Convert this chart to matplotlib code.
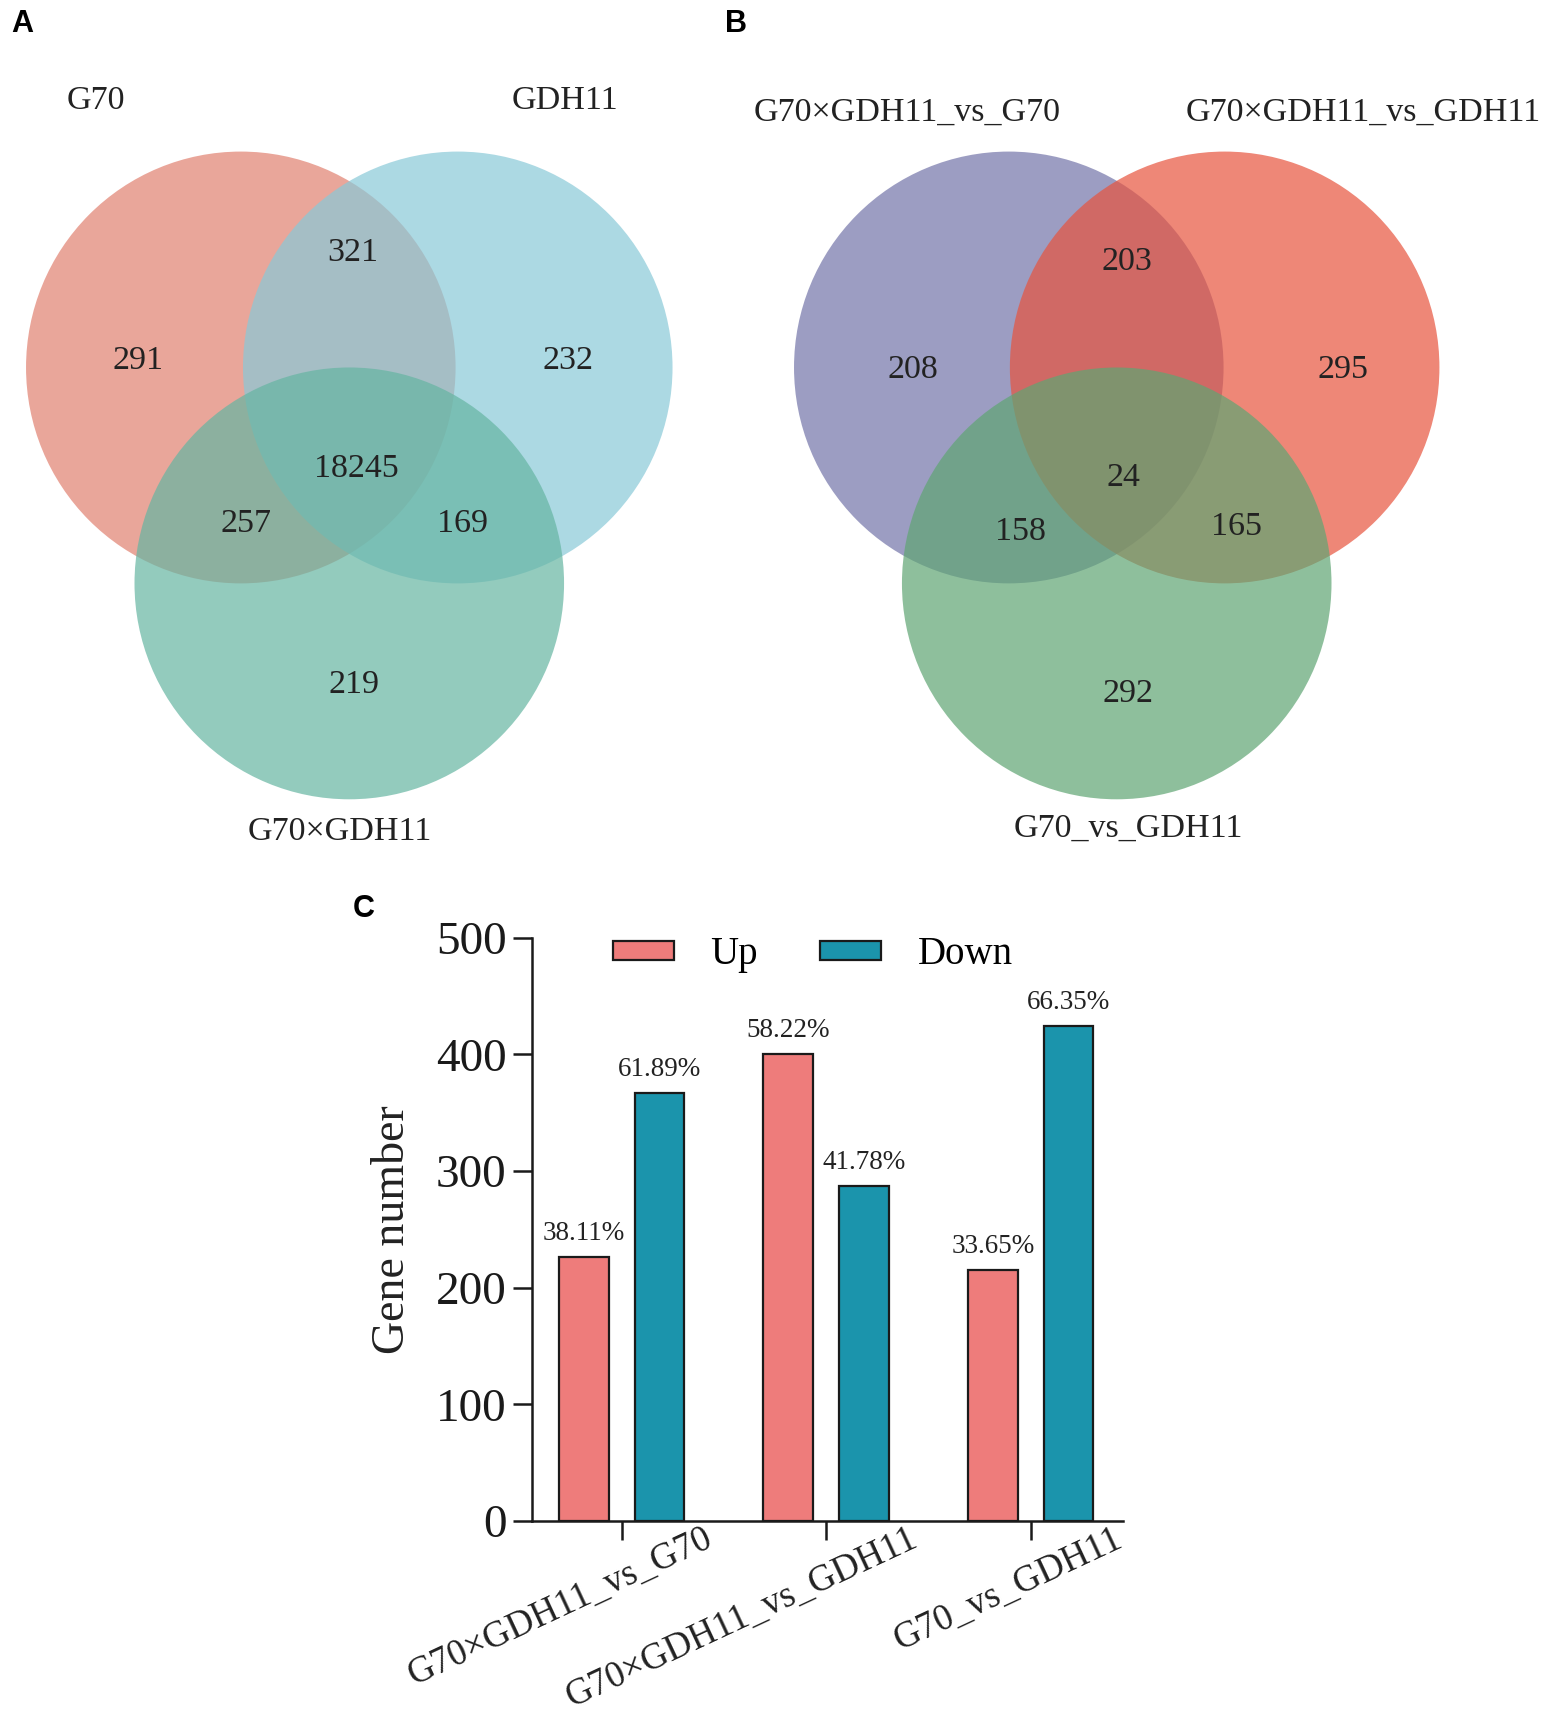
import matplotlib
matplotlib.use('Agg')
import matplotlib.pyplot as plt
from matplotlib.patches import Circle
import matplotlib.transforms as mtransforms
import numpy as np

plt.rcParams['font.family'] = ['Liberation Serif', 'DejaVu Serif']

# Venn A: sets and region counts
# region order: only1, 1&2, only2, all, 1&3, 2&3, only3
venn_a_sets = ['G70', 'GDH11', 'G70×GDH11']
venn_a_counts = [291, 321, 232, 18245, 257, 169, 219]

# Venn B
venn_b_sets = ['G70×GDH11_vs_G70', 'G70×GDH11_vs_GDH11', 'G70_vs_GDH11']
venn_b_counts = [208, 203, 295, 24, 158, 165, 292]

# bar chart C
groups = ['G70×GDH11_vs_G70', 'G70×GDH11_vs_GDH11', 'G70_vs_GDH11']
up_counts = [226, 400, 215]
down_counts = [367, 287, 424]

TXT = '#222222'


def venn3(ax, c0, r, d, colors, set_names, counts, name_pos, count_off, alpha=0.7):
    cx, cy = c0
    centers = [(cx, cy), (cx + d, cy), (cx + d / 2, cy + r)]
    for (x, y), col in zip(centers, colors):
        ax.add_patch(Circle((x, y), r, facecolor=col, edgecolor='none', alpha=alpha))
    for n, (x, y) in zip(set_names, name_pos):
        ax.text(x, y, n, ha='center', va='center', fontsize=24.5, color=TXT)
    for v, (dx, dy) in zip(counts, count_off):
        ax.text(cx + dx, cy + dy, str(v), ha='center', va='center', fontsize=24.5, color=TXT)


fig = plt.figure(figsize=(15.62, 17.12), dpi=100)

# overlay axes for the Venn diagrams (layout units ~ page pixels)
vax = fig.add_axes([0, 0, 1, 1])
vax.set_xlim(0, 1440)
vax.set_ylim(1570, 0)
vax.axis('off')

venn3(vax, (222, 337), 198, 200,
      ['#E18070', '#89C9D8', '#65B5A2'],
      venn_a_sets, venn_a_counts,
      [(88, 92), (521, 92), (313, 763)],
      [(-95, -6), (103, -105), (302, -6), (107, 93), (5, 143), (204, 143), (104, 291)])

venn3(vax, (930, 337), 198, 199,
      ['#7374A8', '#E7543E', '#5FA573'],
      venn_b_sets, venn_b_counts,
      [(836, 103), (1257, 103), (1040, 760)],
      [(-88, 2), (109, -97), (308, 2), (106, 101), (11, 151), (210, 146), (110, 299)])

for lab, (x, y) in zip(['A', 'B', 'C'], [(10, 8), (668, 8), (325, 820)]):
    vax.text(x, y, lab, ha='left', va='top', fontsize=22, fontweight='bold',
             family='Liberation Sans', color='black')

# bar chart
ax = fig.add_axes([0.3403, 0.1115, 0.3785, 0.3408])
x = np.arange(len(groups))
w = 0.243
off = 0.185
b1 = ax.bar(x - off, up_counts, w, color='#EE7C7B', edgecolor='#1a1a1a', linewidth=1.6, label='Up')
b2 = ax.bar(x + off, down_counts, w, color='#1B94AC', edgecolor='#1a1a1a', linewidth=1.6, label='Down')

tot = np.array(up_counts) + np.array(down_counts)
for bars, vals in [(b1, up_counts), (b2, down_counts)]:
    for rect, v, t in zip(bars, vals, tot):
        ax.annotate(f'{v / t * 100:.2f}%', (rect.get_x() + rect.get_width() / 2, v),
                    xytext=(0, 8), textcoords='offset points',
                    ha='center', va='bottom', fontsize=19.5, color=TXT)

ax.set_xlim(-0.44, 2.45)
ax.set_ylim(0, 500)
ax.set_yticks(np.arange(0, 501, 100))
ax.set_xticks(x)
ax.set_xticklabels([])
shift = mtransforms.ScaledTranslation(59 / 72, 0 / 72, fig.dpi_scale_trans)
for xi, g in zip(x, groups):
    ax.text(xi, 0, g, transform=ax.get_xaxis_transform() + shift,
            rotation=25, ha='right', va='top', rotation_mode='anchor',
            fontsize=26.5, color=TXT)
ax.tick_params(axis='y', labelsize=34, length=14, width=1.8, pad=4, colors='#1a1a1a')
ax.tick_params(axis='x', length=14, width=1.8, pad=2, colors='#1a1a1a')
ax.spines['top'].set_visible(False)
ax.spines['right'].set_visible(False)
for s in ['left', 'bottom']:
    ax.spines[s].set_linewidth(1.8)
    ax.spines[s].set_color('#1a1a1a')
ax.set_ylabel('Gene number', fontsize=33, labelpad=16, color=TXT)

ax.legend(loc='upper center', bbox_to_anchor=(0.476, 1.062), ncol=2, frameon=False,
          fontsize=28, handlelength=1.55, handleheight=0.4, handletextpad=0.95,
          columnspacing=1.6)

fig.savefig('out.png', dpi=100)
